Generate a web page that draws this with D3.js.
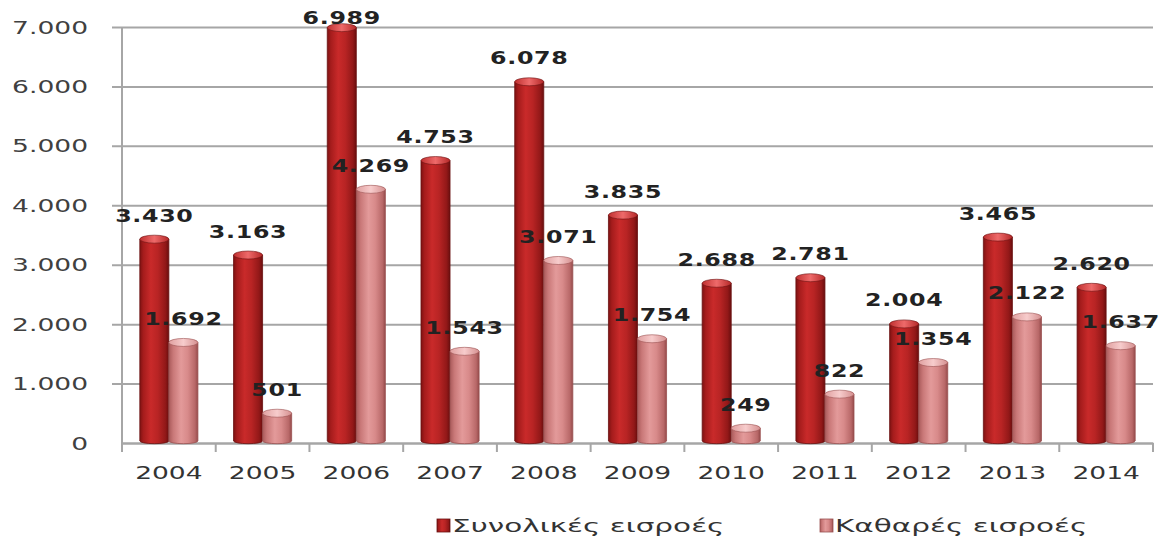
<!DOCTYPE html>
<html>
<head>
<meta charset="utf-8">
<script src="https://cdn.jsdelivr.net/npm/d3@7/dist/d3.min.js"></script>
<style>
  html, body { margin: 0; padding: 0; background: #fff; }
  svg { display: block; }
</style>
</head>
<body>
<svg id="chart" width="1161" height="540"></svg>
<script>
// Inflows per year (total and net)
const years = ["2004","2005","2006","2007","2008","2009","2010","2011","2012","2013","2014"];
const totalInflows = [3430, 3163, 6989, 4753, 6078, 3835, 2688, 2781, 2004, 3465, 2620];
const netInflows   = [1692, 501, 4269, 1543, 3071, 1754, 249, 822, 1354, 2122, 1637];
const seriesNames  = ["Συνολικές εισροές", "Καθαρές εισροές"];
const yTicks = [0, 1000, 2000, 3000, 4000, 5000, 6000, 7000];

const rows = years.map((y, i) => ({ year: y, values: [totalInflows[i], netInflows[i]] }));

const svg = d3.select("#chart");
const plot = { left: 122, right: 1153, top: 27, bottom: 443 };
const SX_AXIS = 1.56;   // horizontal widening of axis text
const SX_LEGEND = 1.64; // horizontal widening of legend text
const SX_LABEL = 1.32;  // horizontal widening of value labels

const locale = d3.formatLocale({ decimal: ",", thousands: ".", grouping: [3], currency: ["", ""] });
const fmt = locale.format(",");

const x = d3.scaleBand().domain(years).range([plot.left, plot.right]).paddingInner(0.38).paddingOuter(0.19);
const xs = d3.scaleBand().domain([0, 1]).range([0, x.bandwidth()]);
const y = d3.scaleLinear().domain([0, 7000]).range([plot.bottom, plot.top]);
const xCat = d3.scaleBand().domain(years).range([plot.left, plot.right]);

// gradients for cylindrical bars
const defs = svg.append("defs");
function hgrad(id, stops) {
  const g = defs.append("linearGradient").attr("id", id).attr("x1", "0").attr("x2", "1").attr("y1", "0").attr("y2", "0");
  stops.forEach(s => g.append("stop").attr("offset", s[0]).attr("stop-color", s[1]));
}
hgrad("gDark", [[0, "#7e1212"], [0.12, "#a51c1c"], [0.38, "#c92a2a"], [0.62, "#b82424"], [0.88, "#921818"], [1, "#6a0e0e"]]);
hgrad("gLight", [[0, "#a95a5a"], [0.15, "#c97878"], [0.42, "#e39a9a"], [0.65, "#d88a8a"], [0.9, "#b86868"], [1, "#944a4a"]]);
hgrad("gDarkCap", [[0, "#c03030"], [0.5, "#ee6a6a"], [1, "#b52828"]]);
hgrad("gLightCap", [[0, "#e0a0a0"], [0.5, "#f7cccc"], [1, "#d59090"]]);
const fills = ["url(#gDark)", "url(#gLight)"];
const caps = ["url(#gDarkCap)", "url(#gLightCap)"];
const strokes = ["#6a1010", "#9a5050"];

// y axis with gridlines
const yAxis = svg.append("g")
  .attr("transform", `translate(${plot.left},0)`)
  .call(d3.axisLeft(y).tickValues(yTicks).tickFormat(fmt).tickSize(0));
yAxis.select(".domain").remove();
yAxis.selectAll(".tick line")
  .attr("x1", -10).attr("x2", plot.right - plot.left)
  .attr("stroke", "#a6a6a6").attr("stroke-width", 2);
yAxis.selectAll(".tick text")
  .attr("x", -34 / SX_AXIS)
  .attr("dy", "0.36em")
  .attr("transform", `scale(${SX_AXIS},1)`)
  .attr("font-family", "DejaVu Sans, Verdana, sans-serif")
  .attr("font-size", 17)
  .attr("fill", "#404040");
// baseline gridline is drawn by the x axis below
yAxis.selectAll(".tick").filter(d => d === 0).select("line").attr("x1", 0);

svg.append("line")
  .attr("x1", plot.left).attr("x2", plot.left).attr("y1", plot.top).attr("y2", plot.bottom + 9)
  .attr("stroke", "#a6a6a6").attr("stroke-width", 2);

// x axis
const xAxis = svg.append("g")
  .attr("transform", `translate(0,${plot.bottom})`)
  .call(d3.axisBottom(xCat).tickSize(0).tickPadding(0));
xAxis.select(".domain").attr("stroke", "#a6a6a6").attr("stroke-width", 2);
xAxis.selectAll(".tick text")
  .attr("y", 0).attr("dy", 0)
  .attr("transform", `translate(0,36) scale(${SX_AXIS},1)`)
  .attr("font-family", "DejaVu Sans, Verdana, sans-serif")
  .attr("font-size", 17)
  .attr("fill", "#333");
// category boundary ticks
xAxis.selectAll(".bound")
  .data(years.concat(["end"]))
  .join("line")
  .attr("class", "bound")
  .attr("x1", (d, i) => plot.left + i * xCat.step())
  .attr("x2", (d, i) => plot.left + i * xCat.step())
  .attr("y1", 0).attr("y2", 9)
  .attr("stroke", "#a6a6a6").attr("stroke-width", 2);

// bars
const capH = 8;
const groups = svg.append("g").selectAll("g")
  .data(rows).join("g")
  .attr("transform", d => `translate(${x(d.year)},0)`);

const bars = groups.selectAll("g.bar")
  .data(d => d.values.map((v, s) => ({ v, s })))
  .join("g").attr("class", "bar");

bars.append("path")
  .attr("d", d => {
    const x0 = xs(d.s), w = xs.bandwidth(), yt = y(d.v), yb = y(0);
    const r = w / 2;
    return `M${x0},${yt} L${x0},${yb - 2} A${r},${capH / 3} 0 0 0 ${x0 + w},${yb - 2} L${x0 + w},${yt} Z`;
  })
  .attr("fill", d => fills[d.s])
  .attr("stroke", d => strokes[d.s]).attr("stroke-width", 0.8);

bars.append("ellipse")
  .attr("cx", d => xs(d.s) + xs.bandwidth() / 2)
  .attr("cy", d => y(d.v))
  .attr("rx", xs.bandwidth() / 2)
  .attr("ry", capH / 2)
  .attr("fill", d => caps[d.s])
  .attr("stroke", d => strokes[d.s]).attr("stroke-width", 0.6);

// value labels
bars.append("text")
  .attr("transform", d => {
    const cx = xs(d.s) + xs.bandwidth() / 2;
    const cy = Math.max(y(d.v) - 24, 18);
    return `translate(${cx},${cy}) scale(${SX_LABEL},1)`;
  })
  .attr("text-anchor", "middle")
  .attr("dy", "0.36em")
  .attr("font-family", "DejaVu Sans, Verdana, sans-serif")
  .attr("font-weight", "bold")
  .attr("font-size", 18)
  .attr("letter-spacing", 0.5)
  .attr("fill", "#222")
  .text(d => fmt(d.v));

// legend
const legendItems = [
  { name: seriesNames[0], x: 437, fill: "url(#gDark)", stroke: "#6a1010" },
  { name: seriesNames[1], x: 820, fill: "url(#gLight)", stroke: "#9a5050" }
];
const lg = svg.append("g").selectAll("g").data(legendItems).join("g")
  .attr("transform", d => `translate(${d.x},519)`);
lg.append("rect").attr("width", 13).attr("height", 13)
  .attr("fill", d => d.fill).attr("stroke", d => d.stroke).attr("stroke-width", 0.8);
lg.append("text")
  .attr("transform", `translate(15,13) scale(${SX_LEGEND},1)`)
  .attr("font-family", "DejaVu Sans, Verdana, sans-serif")
  .attr("font-size", 18)
  .attr("fill", "#333")
  .text(d => d.name);
</script>
</body>
</html>
